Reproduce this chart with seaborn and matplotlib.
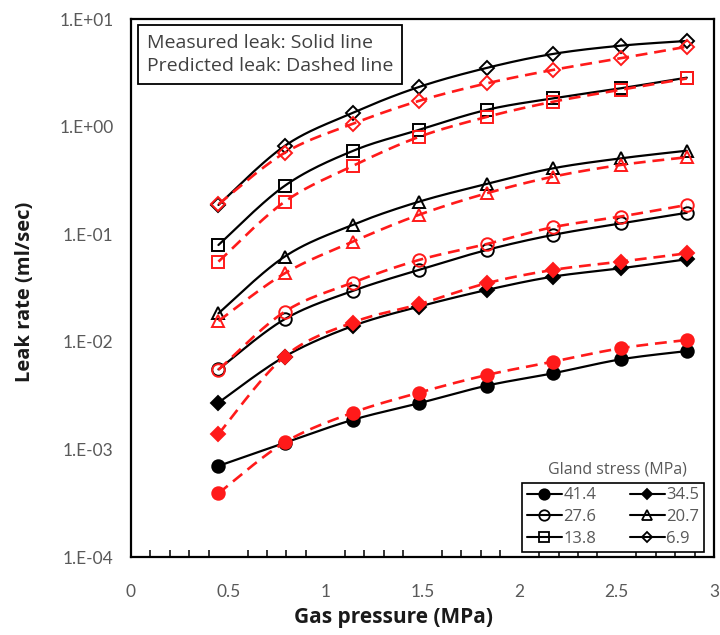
import numpy as np
import pandas as pd
import matplotlib
matplotlib.use("Agg")
import matplotlib.pyplot as plt
import seaborn as sns
from matplotlib.lines import Line2D
from matplotlib.ticker import FixedLocator, MultipleLocator, NullLocator, FixedFormatter

# ---- data -----------------------------------------------------------------
pressure = [0.45, 0.79, 1.14, 1.48, 1.83, 2.17, 2.52, 2.86]   # MPa
gland_stress = ["41.4", "34.5", "27.6", "20.7", "13.8", "6.9"]  # MPa

measured_41_4 = [0.000702, 0.00115, 0.00188, 0.00268, 0.00391, 0.00509, 0.00687, 0.0082]
measured_34_5 = [0.00272, 0.00728, 0.0140, 0.0212, 0.0303, 0.0403, 0.0482, 0.0585]
measured_27_6 = [0.00554, 0.0162, 0.0297, 0.0465, 0.0713, 0.0984, 0.126, 0.158]
measured_20_7 = [0.0184, 0.0618, 0.122, 0.200, 0.293, 0.409, 0.507, 0.597]
measured_13_8 = [0.0794, 0.281, 0.593, 0.93, 1.43, 1.83, 2.27, 2.85]
measured_6_9 = [0.187, 0.66, 1.34, 2.33, 3.51, 4.73, 5.65, 6.25]

predicted_41_4 = [0.000391, 0.00116, 0.00219, 0.00336, 0.00491, 0.00653, 0.00871, 0.0104]
predicted_34_5 = [0.00139, 0.0073, 0.0151, 0.0223, 0.035, 0.0465, 0.0556, 0.0664]
predicted_27_6 = [0.0055, 0.019, 0.0354, 0.0575, 0.081, 0.116, 0.146, 0.187]
predicted_20_7 = [0.0156, 0.0432, 0.085, 0.151, 0.24, 0.342, 0.44, 0.519]
predicted_13_8 = [0.0556, 0.20, 0.43, 0.80, 1.23, 1.70, 2.2, 2.8]
predicted_6_9 = [0.19, 0.57, 1.06, 1.73, 2.52, 3.36, 4.31, 5.53]

y_tick_values = [1e-4, 1e-3, 1e-2, 1e-1, 1e0, 1e1]
y_tick_labels = ["1.E-04", "1.E-03", "1.E-02", "1.E-01", "1.E+00", "1.E+01"]
x_tick_values = [0, 0.5, 1, 1.5, 2, 2.5, 3]
x_tick_labels = ["0", "0.5", "1", "1.5", "2", "2.5", "3"]

measured = [measured_41_4, measured_34_5, measured_27_6, measured_20_7, measured_13_8, measured_6_9]
predicted = [predicted_41_4, predicted_34_5, predicted_27_6, predicted_20_7, predicted_13_8, predicted_6_9]

# marker style per gland stress: (marker, filled)
marker_style = [("o", True), ("D", True), ("o", False), ("^", False), ("s", False), ("D", False)]
marker_size = [9, 7, 9, 9, 9, 7]

RED = "#ff1a1a"
GRAY_TXT = "#595959"
SEG = 24


def smooth_path(x, y):
    """Catmull-Rom smoothing through the points, in log-y space."""
    x = np.asarray(x, float)
    ly = np.log10(np.asarray(y, float))
    px = np.concatenate([[x[0]], x, [x[-1]]])
    py = np.concatenate([[ly[0]], ly, [ly[-1]]])
    xs, ys = [], []
    t = np.linspace(0, 1, SEG, endpoint=False)
    for i in range(1, len(px) - 2):
        p0x, p1x, p2x, p3x = px[i - 1], px[i], px[i + 1], px[i + 2]
        p0y, p1y, p2y, p3y = py[i - 1], py[i], py[i + 1], py[i + 2]
        c1x, c1y = p1x + (p2x - p0x) / 6, p1y + (p2y - p0y) / 6
        c2x, c2y = p2x - (p3x - p1x) / 6, p2y - (p3y - p1y) / 6
        bx = (1 - t) ** 3 * p1x + 3 * (1 - t) ** 2 * t * c1x + 3 * (1 - t) * t ** 2 * c2x + t ** 3 * p2x
        by = (1 - t) ** 3 * p1y + 3 * (1 - t) ** 2 * t * c1y + 3 * (1 - t) * t ** 2 * c2y + t ** 3 * p2y
        xs.append(bx)
        ys.append(by)
    xs.append([x[-1]])
    ys.append([ly[-1]])
    return np.concatenate(xs), 10 ** np.concatenate(ys)


sns.set_theme(style="white")
plt.rcParams["font.family"] = ["Lato", "DejaVu Sans"]
WIDE = ["Open Sans", "DejaVu Sans"]

fig = plt.figure(figsize=(7.2, 6.35), dpi=100)
ax = fig.add_axes([131 / 720, 1 - 557 / 635, 583 / 720, 538 / 635])

mark_idx = [i * SEG for i in range(len(pressure))]

for series, color, ls, lw in [(measured, "black", "-", 1.6), (predicted, RED, (0, (4.5, 2.6)), 1.9)]:
    for k, vals in enumerate(series):
        sx, sy = smooth_path(pressure, vals)
        df = pd.DataFrame({"p": sx, "rate": sy})
        m, filled = marker_style[k]
        sns.lineplot(data=df, x="p", y="rate", ax=ax, sort=False, estimator=None,
                     color=color, linestyle=ls, linewidth=lw, legend=False,
                     marker=m, markevery=mark_idx, markersize=marker_size[k],
                     mfc=color if filled else "none", mec=color, mew=1.4,
                     zorder=3 if color == "black" else 4)

ax.set_yscale("log")
ax.set_xlim(0, 3)
ax.set_ylim(1e-4, 1e1)

ax.yaxis.set_major_locator(FixedLocator(y_tick_values))
ax.yaxis.set_major_formatter(FixedFormatter(y_tick_labels))
ax.yaxis.set_minor_locator(NullLocator())
ax.xaxis.set_major_locator(FixedLocator(x_tick_values))
ax.xaxis.set_major_formatter(FixedFormatter(x_tick_labels))
ax.xaxis.set_minor_locator(MultipleLocator(0.1))

ax.tick_params(axis="both", which="major", direction="inout", length=9, width=1.3,
               colors="black", labelcolor=GRAY_TXT, labelsize=12.5)
ax.tick_params(axis="x", which="major", pad=15)
ax.tick_params(axis="y", which="major", pad=8)
ax.tick_params(axis="x", which="minor", direction="in", length=5, width=1.1, color="black", bottom=True)

for sp in ax.spines.values():
    sp.set_visible(True)
    sp.set_color("black")
    sp.set_linewidth(1.6)

ax.set_xlabel("Gas pressure (MPa)", fontsize=15, fontweight="bold", color="#1a1a1a", family=WIDE)
ax.set_ylabel("Leak rate (ml/sec)", fontsize=14.5, fontweight="bold", color="#1a1a1a", family=WIDE)
ax.xaxis.set_label_coords((394 - 131) / 583, -(617 - 557) / 538, )
ax.xaxis.label.set_va("center")
ax.yaxis.set_label_coords(-(131 - 25) / 583, (557 - 292) / 538)
ax.yaxis.label.set_va("center")

# note box in the upper left corner
ax.text((147 - 131) / 583, (557 - 34) / 538, "Measured leak: Solid line\nPredicted leak: Dashed line",
        transform=ax.transAxes, ha="left", va="top", fontsize=14, color="#404040",
        linespacing=1.38, family=WIDE,
        bbox=dict(boxstyle="square,pad=0.45", fc="white", ec="black", lw=1.3))

# legend for gland stress
handles = []
for k, lab in enumerate(gland_stress):
    m, filled = marker_style[k]
    handles.append(Line2D([], [], color="black", lw=1.5, marker=m,
                          markersize=marker_size[k] - 1.5,
                          mfc="black" if filled else "none", mec="black", mew=1.3,
                          label=lab))
order = [0, 2, 4, 1, 3, 5]
leg = ax.legend([handles[i] for i in order], [gland_stress[i] for i in order],
                ncol=2, loc="lower right",
                bbox_to_anchor=((704 - 131) / 583, (557 - 552) / 538),
                borderaxespad=0,
                frameon=True, fancybox=False, edgecolor="black", framealpha=1,
                prop={"family": WIDE, "size": 12}, handlelength=2.1, handletextpad=0.1,
                columnspacing=2.0, labelspacing=0.36, borderpad=0.28,
                labelcolor=GRAY_TXT)
leg.get_frame().set_linewidth(1.2)
ax.text((617 - 131) / 583, (557 - 469) / 538, "Gland stress (MPa)", transform=ax.transAxes,
        ha="center", va="center", fontsize=11.5, color=GRAY_TXT, family=WIDE)

fig.savefig("out.png", dpi=100, facecolor="white")
